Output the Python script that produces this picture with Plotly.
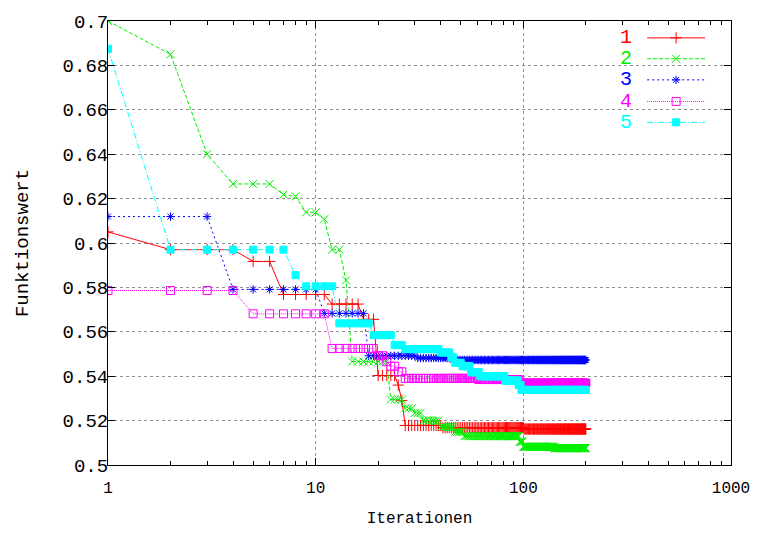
import plotly.graph_objects as go

N_ITER = 200

# Step data: iteration at which a new best value starts, and the value held from then on
s1_start = [1, 2, 5, 7, 12, 17, 20, 25, 26, 27, 41, 101]
s1_val = [0.605, 0.597, 0.5917, 0.5768, 0.5725, 0.5656, 0.5403, 0.536, 0.529, 0.5178, 0.5168, 0.5162]

s2_start = [1, 2, 3, 4, 7, 8, 9, 11, 12, 14, 15, 23, 27, 30, 33, 40, 47, 52, 96, 100, 141]
s2_val = [0.7, 0.685, 0.640, 0.6266, 0.6218, 0.621, 0.6138, 0.6107, 0.597, 0.5832, 0.5466,
          0.5295, 0.5255, 0.5234, 0.520, 0.5171, 0.5149, 0.513, 0.5105, 0.5082, 0.5076]

s3_start = [1, 4, 11, 18, 31, 46]
s3_val = [0.6119, 0.5791, 0.5683, 0.5492, 0.5482, 0.5473]

s4_start = [1, 5, 12, 20, 22, 23, 25, 27, 61, 96]
s4_val = [0.5786, 0.5681, 0.5525, 0.5492, 0.5465, 0.5445, 0.542, 0.539, 0.5385, 0.5368]

s5_start = [1, 2, 8, 9, 13, 19, 24, 27, 40, 45, 47, 51, 56, 62, 82, 95, 98]
s5_val = [0.6875, 0.597, 0.5855, 0.5805, 0.5638, 0.5585, 0.554, 0.5522, 0.5507, 0.5485,
          0.546, 0.5445, 0.5418, 0.540, 0.538, 0.536, 0.5338]

names = ["1", "2", "3", "4", "5"]
colors = ["#ff0000", "#00f000", "#0000ff", "#ff00ff", "#00ffff"]
dashes = ["solid", "4px,2px", "2px,3px", "1px,1px", "6px,2px,1px,2px"]
symbols = ["cross-thin-open", "x-thin-open", "asterisk-open", "square-open", "square"]
msizes = [8, 8, 7, 8, 7]

y_ticks = [0.5, 0.52, 0.54, 0.56, 0.58, 0.6, 0.62, 0.64, 0.66, 0.68, 0.7]
y_ticktext = ["0.5", "0.52", "0.54", "0.56", "0.58", "0.6", "0.62", "0.64", "0.66", "0.68", "0.7"]
x_ticks = [1, 10, 100, 1000]
x_ticktext = ["1", "10", "100", "1000"]
x_minor = [m * d for d in (1, 10, 100) for m in range(2, 10)]

iters = list(range(1, N_ITER + 1))


def expand(starts, vals):
    out = []
    k = 0
    for i in iters:
        while k + 1 < len(starts) and starts[k + 1] <= i:
            k += 1
        out.append(vals[k])
    return out


series = [expand(s1_start, s1_val), expand(s2_start, s2_val), expand(s3_start, s3_val),
          expand(s4_start, s4_val), expand(s5_start, s5_val)]

FONT = "Liberation Mono, Courier New, monospace"

fig = go.Figure()
for name, ys, c, d, sym, ms in zip(names, series, colors, dashes, symbols, msizes):
    fig.add_trace(go.Scatter(
        x=iters, y=ys, mode="lines+markers", name=name, showlegend=False,
        line=dict(color=c, width=1, dash=d),
        marker=dict(symbol=sym, size=ms, color=c, line=dict(color=c, width=1)),
    ))

# manual gnuplot-style key (text left of sample)
key_rows = [0.962, 0.915, 0.8674, 0.8188, 0.7718]
kx0, kx1, kxm, klab = 0.8654, 0.9583, 0.9119, 0.845
for name, c, d, sym, ms, ky in zip(names, colors, dashes, symbols, msizes, key_rows):
    fig.add_trace(go.Scatter(
        x=[kx0, kx1], y=[ky, ky], mode="lines", xaxis="x2", yaxis="y2", showlegend=False,
        line=dict(color=c, width=1, dash=d), hoverinfo="skip"))
    fig.add_trace(go.Scatter(
        x=[kxm], y=[ky], mode="markers", xaxis="x2", yaxis="y2", showlegend=False,
        marker=dict(symbol=sym, size=ms, color=c, line=dict(color=c, width=1)), hoverinfo="skip"))
    fig.add_annotation(x=klab, y=ky, xref="paper", yref="paper", text=name, showarrow=False,
                       xanchor="right", yanchor="middle", font=dict(family=FONT, size=20, color=c))

fig.update_layout(
    width=762, height=536,
    margin=dict(l=108, r=30, t=18, b=71),
    paper_bgcolor="white", plot_bgcolor="white",
    font=dict(family=FONT, size=16, color="black"),
    xaxis=dict(
        type="log", range=[0, 3], tickmode="array", tickvals=x_ticks, ticktext=x_ticktext,
        ticks="inside", ticklen=7, tickcolor="black", showline=True, linecolor="black",
        linewidth=1, mirror="allticks", showgrid=True, gridcolor="#909090", griddash="dot",
        gridwidth=1, zeroline=False, ticklabelstandoff=8,
        minor=dict(tickmode="array", tickvals=x_minor, ticks="inside", ticklen=4,
                   tickcolor="black", showgrid=False),
        title=dict(text="Iterationen", standoff=14, font=dict(family=FONT, size=16)),
        tickfont=dict(family=FONT, size=16),
    ),
    yaxis=dict(
        range=[0.5, 0.7], tickmode="array", tickvals=y_ticks, ticktext=y_ticktext,
        ticks="inside", ticklen=7, tickcolor="black", showline=True, linecolor="black",
        linewidth=1, mirror="allticks", showgrid=True, gridcolor="#909090", griddash="dot",
        gridwidth=1, zeroline=False, ticklabelstandoff=-5,
        title=dict(text="Funktionswert", standoff=28, font=dict(family=FONT, size=19)),
        tickfont=dict(family=FONT, size=19),
    ),
    xaxis2=dict(overlaying="x", range=[0, 1], visible=False, anchor="y2"),
    yaxis2=dict(overlaying="y", range=[0, 1], visible=False, anchor="x2"),
)

fig.write_html("out.html")
